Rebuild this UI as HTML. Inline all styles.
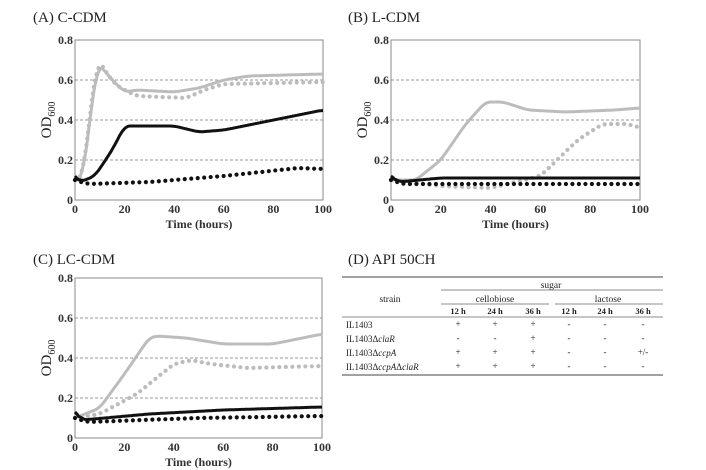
<!DOCTYPE html>
<html><head><meta charset="utf-8"><style>
body{margin:0;background:#fff;width:706px;height:470px;overflow:hidden}
svg{position:absolute;left:0;top:0}
text{font-family:"Liberation Serif",serif;fill:#222}
.t{font-size:15px}.k{font-size:12px;font-weight:bold;fill:#333}
.s{font-size:9.5px}
</style></head><body>
<svg id="s" width="706" height="470" xmlns="http://www.w3.org/2000/svg">
<text class="t" x="33" y="22">(A) C-CDM</text>
<text class="t" x="348" y="22">(B) L-CDM</text>
<text class="t" x="33" y="264">(C) LC-CDM</text>
<text class="t" x="348" y="264">(D) API 50CH</text>
<g id="tbl">
<line x1="342" y1="277" x2="663" y2="277" stroke="#444" stroke-width="1"/>
<line x1="441" y1="290" x2="663" y2="290" stroke="#666" stroke-width="0.8"/>
<line x1="441" y1="304" x2="549" y2="304" stroke="#666" stroke-width="0.8"/>
<line x1="555" y1="304" x2="663" y2="304" stroke="#666" stroke-width="0.8"/>
<line x1="342" y1="317" x2="663" y2="317" stroke="#666" stroke-width="0.8"/>
<line x1="342" y1="375" x2="663" y2="375" stroke="#444" stroke-width="1"/>
<text class="s" x="551" y="288" text-anchor="middle">sugar</text>
<text class="s" x="495" y="302" text-anchor="middle">cellobiose</text>
<text class="s" x="608" y="302" text-anchor="middle">lactose</text>
<text class="s" x="390" y="302" text-anchor="middle">strain</text>
<g font-weight="bold" font-size="8.5">
<text x="458" y="314" text-anchor="middle">12 h</text><text x="495" y="314" text-anchor="middle">24 h</text><text x="533" y="314" text-anchor="middle">36 h</text>
<text x="569" y="314" text-anchor="middle">12 h</text><text x="605" y="314" text-anchor="middle">24 h</text><text x="643" y="314" text-anchor="middle">36 h</text></g>
<g font-size="9">
<text x="346" y="328">IL1403</text>
<text x="346" y="342">IL1403Δ<tspan font-style="italic">claR</tspan></text>
<text x="346" y="356">IL1403Δ<tspan font-style="italic">ccpA</tspan></text>
<text x="346" y="370">IL1403Δ<tspan font-style="italic">ccpA</tspan>Δ<tspan font-style="italic">claR</tspan></text>
</g>
</g>
</svg>
<script>
const S=document.getElementById('s'),NS='http://www.w3.org/2000/svg';
function el(t,a,txt){const e=document.createElementNS(NS,t);for(const k in a)e.setAttribute(k,a[k]);if(txt!=null)e.textContent=txt;S.appendChild(e);return e;}
const rows=[["+","+","+","-","-","-"],["-","-","+","-","-","-"],["+","+","+","-","-","+/-"],["+","+","+","-","-","-"]];
const cx=[458,495,533,569,605,643];
rows.forEach((r,i)=>r.forEach((v,j)=>el('text',{x:cx[j],y:327+i*14,'text-anchor':'middle','font-size':9},v)));
function interp(p,x){for(let i=0;i<p.length-1;i++){if(x<=p[i+1][0]){const a=p[i],b=p[i+1];return a[1]+(b[1]-a[1])*(x-a[0])/(b[0]-a[0]);}}return p[p.length-1][1];}
function smooth(p){const xs=[],ys=[];for(let x=0;x<=100.001;x+=0.5){xs.push(x);ys.push(interp(p,x));}
 const w=4,o=[];for(let i=0;i<ys.length;i++){let s=0,n=0;for(let j=Math.max(0,i-w);j<=Math.min(ys.length-1,i+w);j++){s+=ys[j];n++;}o.push(i<3?ys[i]:s/n);}return [xs,o];}
function plot(L,T,W,H,series){
 [0.2,0.4,0.6].forEach(v=>{const y=T+H-v/0.8*H;el('line',{x1:L,x2:L+W,y1:y,y2:y,stroke:'#777','stroke-width':0.8,'stroke-dasharray':'3 2'});});
 el('rect',{x:L,y:T,width:W,height:H,fill:'none',stroke:'#888','stroke-width':1});
 [0,0.2,0.4,0.6,0.8].forEach(v=>{const y=T+H-v/0.8*H;el('text',{x:L-2,y:y+4,'text-anchor':'end',class:'k'},v==0?'0':v.toFixed(1));});
 [0,20,40,60,80,100].forEach(v=>{const x=L+v/100*W;el('text',{x:x,y:T+H+13,'text-anchor':'middle',class:'k'},v);});
 el('text',{x:L+W/2,y:T+H+28,'text-anchor':'middle',class:'k'},'Time (hours)');
 const g=el('text',{transform:`translate(${L-24},${T+H/2}) rotate(-90)`,'text-anchor':'middle','font-size':15});
 g.innerHTML='OD<tspan font-size="10" dy="4">600</tspan>';
 series.forEach(s=>{const [xs,ys]=smooth(s.p);let d='';xs.forEach((x,i)=>{d+=(i?'L':'M')+(L+x/100*W).toFixed(1)+' '+(T+H-ys[i]/0.8*H).toFixed(1);});
  const a={d:d,fill:'none',stroke:s.c,'stroke-width':s.d?4.2:3,'stroke-linejoin':'round'};
  if(s.d){a['stroke-dasharray']='0 6.5';a['stroke-linecap']='round';}
  el('path',a);});
}
const G='#bcbcbc',B='#111';
plot(75,40,248,160,[
 {c:G,d:1,p:[[0,0.1],[3,0.1],[6,0.42],[9,0.71],[12,0.65],[16,0.58],[20,0.55],[25,0.52],[45,0.51],[52,0.55],[60,0.58],[100,0.59]]},
 {c:G,p:[[0,0.1],[3,0.1],[6,0.4],[9,0.68],[11,0.66],[15,0.6],[20,0.54],[25,0.55],[40,0.54],[50,0.56],[60,0.6],[70,0.62],[100,0.63]]},
 {c:B,p:[[0,0.12],[2,0.09],[8,0.12],[15,0.25],[20,0.37],[40,0.37],[50,0.34],[60,0.35],[80,0.4],[100,0.45]]},
 {c:B,d:1,p:[[0,0.1],[5,0.08],[30,0.09],[60,0.12],[90,0.16],[100,0.155]]}]);
plot(391,40,249,160,[
 {c:G,d:1,p:[[0,0.1],[20,0.07],[40,0.06],[60,0.12],[75,0.3],[85,0.38],[95,0.38],[100,0.36]]},
 {c:G,p:[[0,0.1],[10,0.1],[20,0.2],[30,0.38],[38,0.49],[45,0.49],[55,0.45],[70,0.44],[90,0.45],[100,0.46]]},
 {c:B,p:[[0,0.12],[3,0.09],[20,0.11],[100,0.11]]},
 {c:B,d:1,p:[[0,0.1],[5,0.08],[100,0.08]]}]);
plot(75,278,247,160,[
 {c:G,d:1,p:[[0,0.1],[10,0.12],[25,0.22],[40,0.37],[47,0.39],[55,0.37],[70,0.35],[100,0.36]]},
 {c:G,p:[[0,0.1],[10,0.15],[20,0.32],[30,0.5],[33,0.51],[45,0.5],[60,0.47],[80,0.47],[100,0.52]]},
 {c:B,p:[[0,0.13],[3,0.09],[30,0.12],[60,0.14],[100,0.155]]},
 {c:B,d:1,p:[[0,0.1],[5,0.08],[50,0.1],[100,0.11]]}]);
</script>
</body></html>
